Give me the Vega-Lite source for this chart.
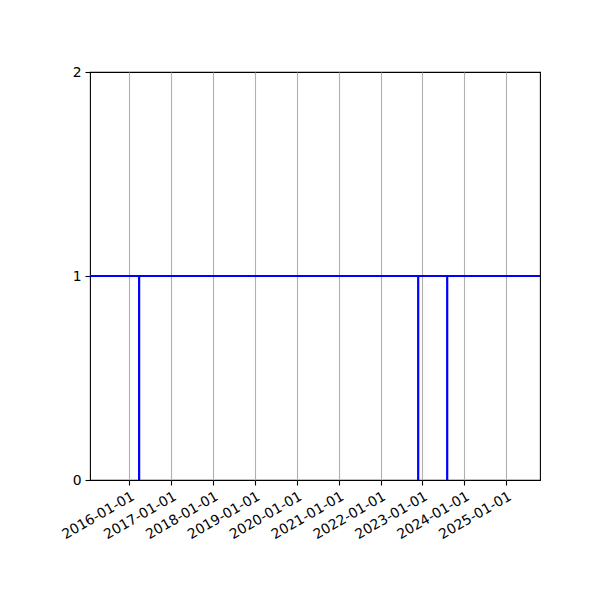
{
  "$schema": "https://vega.github.io/schema/vega-lite/v6.json",
  "width": 450,
  "height": 408,
  "autosize": {"type": "none"},
  "padding": {"left": 90, "top": 72, "right": 60, "bottom": 120},
  "background": "white",
  "data": {
    "values": [
      {"date": "2014-06-01", "value": 1},
      {"date": "2016-03-26", "value": 0},
      {"date": "2016-03-27", "value": 1},
      {"date": "2022-11-24", "value": 0},
      {"date": "2022-11-25", "value": 1},
      {"date": "2023-08-04", "value": 0},
      {"date": "2023-08-05", "value": 1},
      {"date": "2026-06-01", "value": 1}
    ]
  },
  "mark": {
    "type": "line",
    "interpolate": "step-after",
    "color": "#0000ff",
    "strokeWidth": 2.1,
    "clip": true
  },
  "encoding": {
    "x": {
      "field": "date",
      "type": "temporal",
      "title": null,
      "scale": {
        "type": "utc",
        "domain": [
          {"year": 2015, "month": 1, "date": 23, "utc": true},
          {"year": 2025, "month": 10, "date": 22, "utc": true}
        ]
      },
      "axis": {
        "values": [
          {"year": 2016, "month": 1, "date": 1, "utc": true},
          {"year": 2017, "month": 1, "date": 1, "utc": true},
          {"year": 2018, "month": 1, "date": 1, "utc": true},
          {"year": 2019, "month": 1, "date": 1, "utc": true},
          {"year": 2020, "month": 1, "date": 1, "utc": true},
          {"year": 2021, "month": 1, "date": 1, "utc": true},
          {"year": 2022, "month": 1, "date": 1, "utc": true},
          {"year": 2023, "month": 1, "date": 1, "utc": true},
          {"year": 2024, "month": 1, "date": 1, "utc": true},
          {"year": 2025, "month": 1, "date": 1, "utc": true}
        ],
        "labelExpr": "utcFormat(datum.value, '%Y-%m-%d')",
        "labelAngle": -30,
        "labelAlign": "right",
        "labelBaseline": "top",
        "labelPadding": 4,
        "grid": true,
        "gridColor": "#b0b0b0",
        "gridWidth": 1.1,
        "domain": false,
        "tickColor": "black",
        "tickSize": 5,
        "tickWidth": 1.1,
        "labelFlush": false,
        "labelOverlap": false
      }
    },
    "y": {
      "field": "value",
      "type": "quantitative",
      "title": null,
      "scale": {"domain": [0, 2], "nice": false},
      "axis": {
        "values": [0, 1, 2],
        "labelExpr": "datum.value == 0 ? '0' : datum.value == 1 ? '1' : '2'",
        "grid": false,
        "domain": false,
        "tickColor": "black",
        "tickSize": 5,
        "tickWidth": 1.1,
        "labelPadding": 4,
        "labelFlush": false,
        "labelOverlap": false
      }
    }
  },
  "config": {
    "font": "DejaVu Sans",
    "view": {"stroke": "black", "strokeWidth": 1.1},
    "axis": {
      "labelFont": "DejaVu Sans",
      "labelFontSize": 13.9,
      "labelColor": "black"
    }
  }
}
